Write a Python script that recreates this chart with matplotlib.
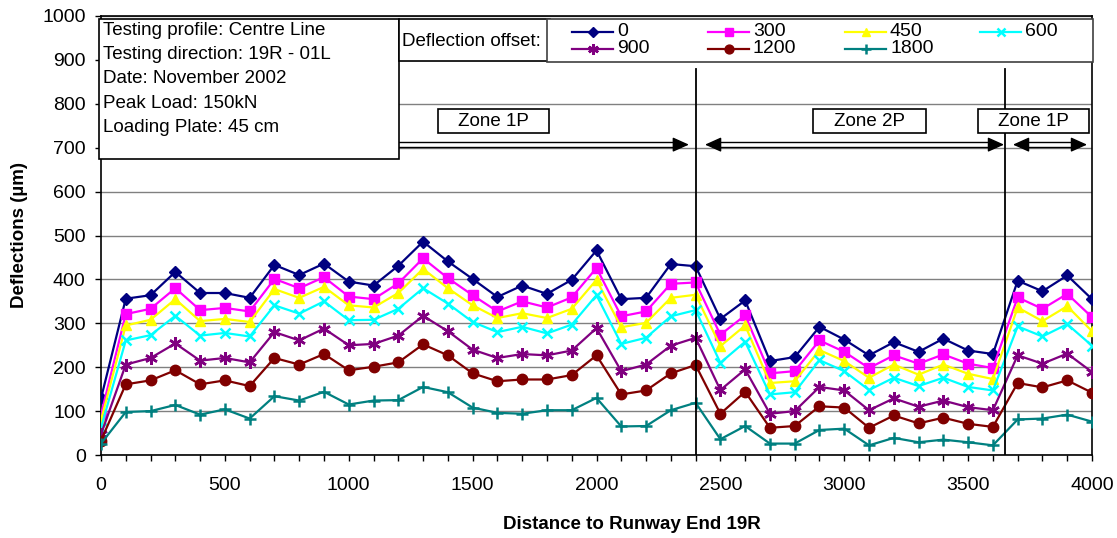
import matplotlib
matplotlib.use("Agg")
import matplotlib.pyplot as plt
from matplotlib.patches import Rectangle
from matplotlib.lines import Line2D

plt.rcParams['font.family'] = ['Liberation Sans', 'DejaVu Sans']

# Distance along runway (m)
distance = list(range(0, 4001, 100))

offsets = ['0', '300', '450', '600', '900', '1200', '1800']

d0 = [129, 356, 364, 417, 369, 369, 358, 433, 410, 436, 395, 386, 431, 486, 441, 401, 360, 386, 367, 399, 466,
      355, 358, 435, 430, 310, 352, 214, 223, 292, 263, 227, 257, 235, 265, 238, 230, 397, 373, 409, 355]
d300 = [92, 321, 333, 380, 330, 335, 327, 401, 380, 405, 361, 355, 391, 448, 403, 364, 327, 350, 336, 359, 426,
        316, 327, 390, 393, 274, 318, 186, 191, 261, 235, 198, 227, 208, 229, 208, 198, 359, 333, 367, 314]
d450 = [79, 295, 308, 355, 305, 310, 303, 378, 358, 383, 341, 336, 369, 424, 380, 341, 312, 323, 312, 333, 399,
        291, 301, 358, 365, 248, 295, 164, 168, 239, 214, 176, 206, 183, 206, 185, 173, 336, 305, 339, 282]
d600 = [62, 261, 273, 317, 272, 278, 270, 341, 322, 350, 307, 308, 333, 380, 345, 303, 280, 292, 277, 297, 364,
        253, 267, 316, 330, 210, 258, 138, 143, 216, 191, 148, 176, 157, 176, 155, 147, 293, 270, 298, 249]
d900 = [47, 206, 221, 254, 215, 221, 211, 280, 261, 288, 250, 253, 272, 317, 282, 240, 221, 230, 227, 238, 289,
        191, 206, 249, 267, 148, 195, 94, 100, 155, 147, 102, 129, 110, 124, 109, 102, 227, 208, 231, 189]
d1200 = [33, 161, 170, 193, 161, 170, 157, 221, 206, 230, 193, 201, 211, 252, 227, 186, 168, 172, 172, 182, 227,
         138, 147, 186, 205, 94, 144, 62, 66, 111, 108, 62, 90, 72, 85, 71, 64, 164, 154, 170, 142]
d1800 = [26, 98, 100, 114, 92, 104, 83, 134, 124, 144, 115, 124, 125, 155, 143, 108, 96, 94, 102, 102, 130,
         65, 66, 102, 119, 36, 66, 26, 26, 57, 60, 22, 39, 29, 35, 29, 22, 81, 83, 92, 76]

series = [d0, d300, d450, d600, d900, d1200, d1800]
colors = ['#000080', '#FF00FF', '#FFFF00', '#00FFFF', '#800080', '#800000', '#008080']
markers = ['D', 's', '^', 'x', (6, 2, 0), 'o', '+']
msizes = [6.5, 7.5, 7.5, 7.5, 9, 7.5, 9]

# zones (boundaries, label boxes x0-x1, arrow spans)
zone_bounds = [2400, 3650]
zone_labels = ['Zone 1P', 'Zone 2P', 'Zone 1P']
zone_boxes = [(1360, 1808), (2874, 3330), (3540, 3988)]
zone_arrows = [(None, 2373), (2438, 3645), (3681, 3980)]

info_lines = ['Testing profile: Centre Line',
              'Testing direction: 19R - 01L',
              'Date: November 2002',
              'Peak Load: 150kN',
              'Loading Plate: 45 cm']

W, H = 1117, 538


def fx(x):
    return x / W


def fy(y):
    return 1 - y / H


def style(i):
    m = markers[i]
    mew = 1.8 if m in ('x', '+', (6, 2, 0)) else 1
    return dict(color=colors[i], marker=m, markersize=msizes[i], lw=1.6,
                markeredgewidth=mew, markeredgecolor=colors[i])


fig = plt.figure(figsize=(W / 100, H / 100), dpi=100)
ax = fig.add_axes([fx(101), fy(455), fx(1092) - fx(101), fy(16) - fy(455)])

for i, vals in enumerate(series):
    ax.plot(distance, vals, label=offsets[i], zorder=3, **style(i))

ax.set_xlim(0, 4000)
ax.set_ylim(0, 1000)
ax.set_xticks(range(0, 4001, 500))
ax.set_xticks(range(0, 4001, 100), minor=True)
ax.set_yticks(range(0, 1001, 100))
ax.yaxis.grid(True, color='#808080', lw=1)
ax.set_axisbelow(True)
ax.tick_params(axis='both', which='major', labelsize=14, direction='out', length=4, width=1)
ax.tick_params(axis='x', which='major', pad=12)
ax.tick_params(axis='y', which='major', pad=7)
ax.tick_params(axis='x', which='minor', direction='out', length=4, width=1)
for s in ax.spines.values():
    s.set_linewidth(1.2)

ax.set_xlabel('Distance to Runway End 19R', fontsize=13.5, fontweight='bold')
ax.xaxis.set_label_coords((632 - 101) / 991, -61 / 439)
ax.set_ylabel('Deflections (µm)', fontsize=13.5, fontweight='bold')
ax.yaxis.set_label_coords(-73 / 991, 0.5)

# zone boundaries
for b in zone_bounds:
    ax.plot([b, b], [0, 880], color='black', lw=1.3, zorder=4)

# zone arrows (double shaft + filled heads)
arrow_y = 707
head = '-|>,head_length=1.0,head_width=0.45'
for a, b in zone_arrows:
    a0 = 0 if a is None else a + 50
    for dy in (-5, 5):
        ax.plot([a0, b - 50], [arrow_y + dy] * 2, color='black', lw=1, zorder=4)
    ax.annotate('', xy=(b, arrow_y), xytext=(b - 60, arrow_y),
                arrowprops=dict(arrowstyle=head, color='black', lw=1, shrinkA=0, shrinkB=0), zorder=4)
    if a is not None:
        ax.annotate('', xy=(a, arrow_y), xytext=(a + 60, arrow_y),
                    arrowprops=dict(arrowstyle=head, color='black', lw=1, shrinkA=0, shrinkB=0), zorder=4)

for lab, (x0, x1) in zip(zone_labels, zone_boxes):
    ax.add_patch(Rectangle((x0, 733), x1 - x0, 55, fc='white', ec='black', lw=1.2, zorder=6))
    ax.text((x0 + x1) / 2, 760, lab, fontsize=13.5, ha='center', va='center', zorder=7)

# info box
fig.patches.append(Rectangle((fx(99), fy(159)), fx(399) - fx(99), fy(19) - fy(159),
                             transform=fig.transFigure, fc='white', ec='black', lw=1.2, zorder=10))
for i, line in enumerate(info_lines):
    fig.text(fx(103), fy(30.5 + i * 24.2), line, fontsize=13.5, va='center', ha='left', zorder=11)

# legend label box
fig.patches.append(Rectangle((fx(399), fy(61)), fx(550) - fx(399), fy(19) - fy(61),
                             transform=fig.transFigure, fc='white', ec='black', lw=1.2, zorder=10))
fig.text(fx(402), fy(41), 'Deflection offset:', fontsize=13.5, va='center', ha='left', zorder=11)

# legend box with entries laid out row by row
fig.patches.append(Rectangle((fx(547), fy(62)), fx(1093) - fx(547), fy(19) - fy(62),
                             transform=fig.transFigure, fc='white', ec='#404040', lw=1.2, zorder=12))
col_x = [572, 708, 845, 980]
row_y = [32, 49]
for i, lab in enumerate(offsets):
    cx = col_x[i % 4]
    ry = row_y[i // 4]
    st = style(i)
    st['markersize'] *= 0.85
    ln = Line2D([fx(cx), fx(cx + 41)], [fy(ry), fy(ry)], transform=fig.transFigure,
                markevery=[], zorder=13, **st)
    fig.add_artist(ln)
    mk = Line2D([fx(cx + 20.5)], [fy(ry)], transform=fig.transFigure, zorder=14, **st)
    fig.add_artist(mk)
    fig.text(fx(cx + 45), fy(ry - 0.5), lab, fontsize=14, va='center', ha='left', zorder=14)

fig.savefig('out.png', dpi=100)
